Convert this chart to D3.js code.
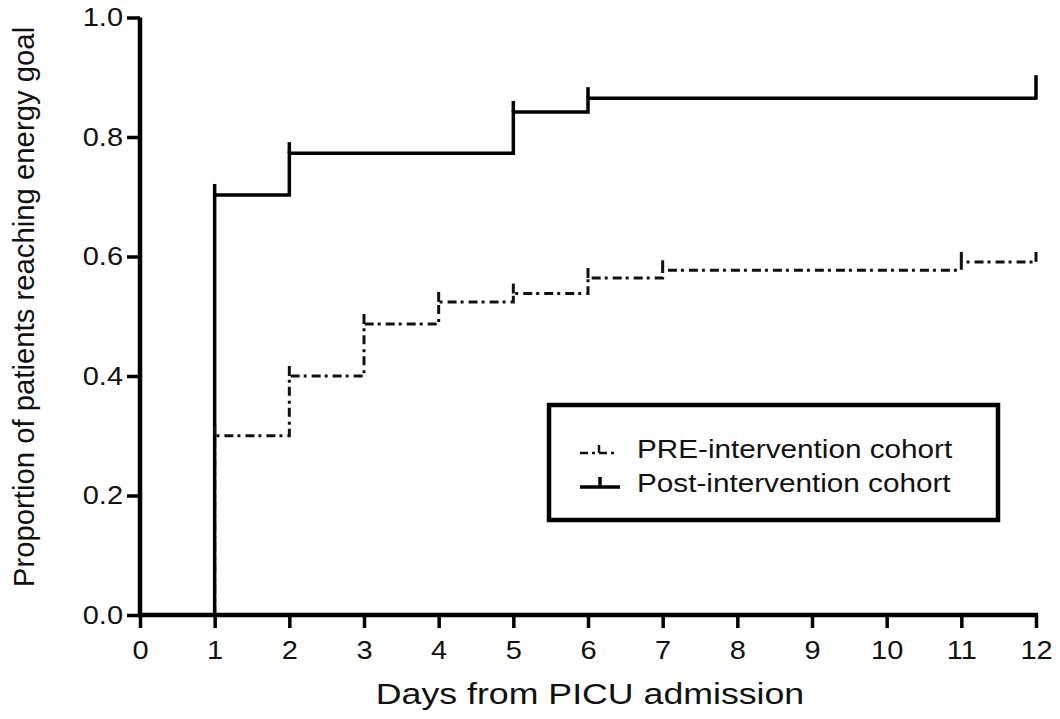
<!DOCTYPE html>
<html><head><meta charset="utf-8">
<script src="https://cdn.jsdelivr.net/npm/d3@7"></script>
<style>body{margin:0;background:#fff}svg{display:block}text{font-family:"Liberation Sans",Arial,Helvetica,sans-serif;fill:#111}</style>
</head><body>
<script>
const xTicks = [0,1,2,3,4,5,6,7,8,9,10,11,12];
const yTicks = [0,0.2,0.4,0.6,0.8,1.0];
const postDays = [1,1,2,5,6,12];
const postValues = [0,0.703,0.773,0.842,0.865,0.865];
const preDays = [1,1,2,3,4,5,6,7,11,12];
const preValues = [0,0.30,0.40,0.487,0.524,0.538,0.564,0.577,0.591,0.591];
const postCensor = [1,2,5,6];
const preCensor = [1,2,3,4,5,6,7,11,12];
const seriesNames = ["PRE-intervention cohort","Post-intervention cohort"];
const xTitle = "Days from PICU admission";
const yTitle = "Proportion of patients reaching energy goal";

const W=1060,H=719;
const SX=1.16; // horizontal stretch of the reference lettering
const svg=d3.select("body").append("svg").attr("width",W).attr("height",H);
const x=d3.scaleLinear().domain([0,12]).range([140,1036]);
const y=d3.scaleLinear().domain([0,1]).range([615,17.5]);

// axes
const xa=svg.append("g").attr("transform","translate(0,615)")
  .call(d3.axisBottom(x).tickValues(xTicks).tickFormat(d3.format("d")).tickSizeOuter(0).tickSizeInner(13).tickPadding(13));
const ya=svg.append("g").attr("transform","translate(140,0)")
  .call(d3.axisLeft(y).tickValues(yTicks).tickFormat(d3.format(".1f")).tickSizeOuter(0).tickSizeInner(13).tickPadding(4));
[xa,ya].forEach(g=>{
  g.select(".domain").attr("stroke","#000").attr("stroke-width",4.5);
  g.selectAll(".tick line").attr("stroke","#000").attr("stroke-width",3.5);
  g.selectAll(".tick text").attr("font-size",25).attr("fill","#111").style("font-family","Liberation Sans, Arial, sans-serif");
});
xa.selectAll(".tick text").attr("transform",`scale(${SX},1)`);
ya.selectAll(".tick text").attr("transform",`translate(-17,0) scale(${SX},1) translate(17,0)`);
xa.select(".domain").attr("d","M138,0H1038");
ya.select(".domain").attr("d","M0,17.5V617");

const line=d3.line().curve(d3.curveStepAfter).x(d=>x(d[0])).y(d=>y(d[1]));
const post=postDays.map((d,i)=>[d,postValues[i]]);
const pre=preDays.map((d,i)=>[d,preValues[i]]);

svg.append("path").attr("d",line(pre)).attr("fill","none").attr("stroke","#111")
  .attr("stroke-width",3).attr("stroke-dasharray","9,4,3,5");
svg.append("path").attr("d",line(post)).attr("fill","none").attr("stroke","#000")
  .attr("stroke-width",3.5);

// censor ticks
const valAt=(days,vals,t)=>{let v=0;days.forEach((d,i)=>{if(d<=t)v=vals[i];});return v;};
preCensor.forEach(t=>{
  const v=valAt(preDays,preValues,t);
  svg.append("line").attr("x1",x(t)).attr("x2",x(t)).attr("y1",y(v)).attr("y2",y(v)-10)
   .attr("stroke","#111").attr("stroke-width",3);
});
postCensor.forEach(t=>{
  const v=valAt(postDays,postValues,t);
  svg.append("line").attr("x1",x(t)).attr("x2",x(t)).attr("y1",y(v)).attr("y2",y(v)-11)
   .attr("stroke","#000").attr("stroke-width",3.5);
});
{ const v=postValues[postValues.length-1];
  svg.append("line").attr("x1",x(12)).attr("x2",x(12)).attr("y1",y(v)+1.5).attr("y2",y(v)-23)
   .attr("stroke","#000").attr("stroke-width",3.5); }

// titles
svg.append("text").attr("transform",`translate(590,704) scale(1.19,1)`).attr("text-anchor","middle").attr("font-size",30).text(xTitle);
svg.append("text").attr("transform","translate(34,307) rotate(-90)").attr("text-anchor","middle").attr("font-size",29.3).text(yTitle);

// legend
const lg=svg.append("g");
lg.append("rect").attr("x",549).attr("y",405).attr("width",449).attr("height",115)
  .attr("fill","#fff").attr("stroke","#000").attr("stroke-width",4.5);
const ly=[453,487];
lg.append("line").attr("x1",580).attr("x2",618).attr("y1",ly[0]).attr("y2",ly[0]).attr("stroke","#111").attr("stroke-width",2.5).attr("stroke-dasharray","8,4,3,4");
lg.append("line").attr("x1",599).attr("x2",599).attr("y1",ly[0]).attr("y2",ly[0]-8).attr("stroke","#111").attr("stroke-width",2.5);
lg.append("line").attr("x1",580).attr("x2",620).attr("y1",ly[1]).attr("y2",ly[1]).attr("stroke","#000").attr("stroke-width",3.5);
lg.append("line").attr("x1",600).attr("x2",600).attr("y1",ly[1]).attr("y2",ly[1]-10).attr("stroke","#000").attr("stroke-width",3.5);
seriesNames.forEach((n,i)=>lg.append("text").attr("transform",`translate(637,${ly[i]+4.5}) scale(${SX},1)`).attr("font-size",25.6).text(n));
</script>
</body></html>
